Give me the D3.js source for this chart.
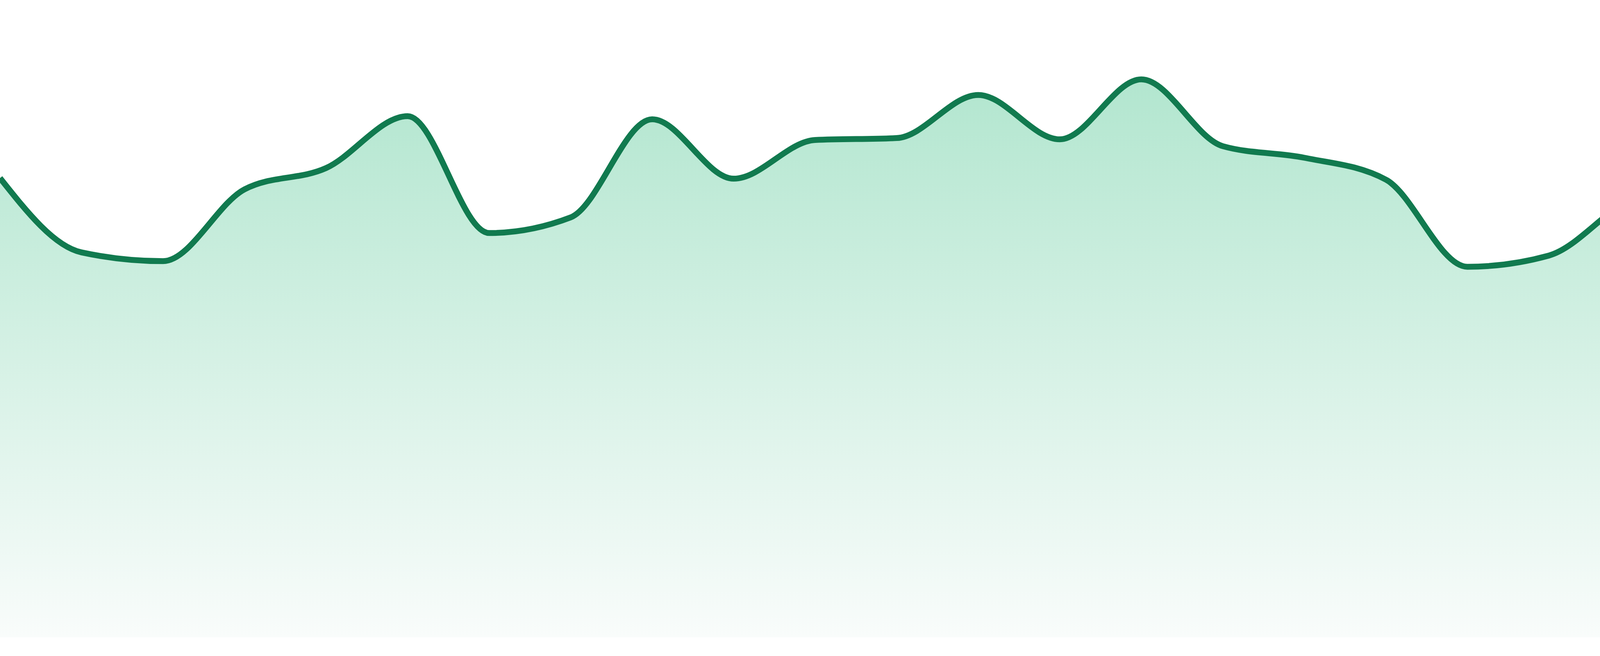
<!DOCTYPE html>
<html>
<head>
<meta charset="utf-8">
<script src="https://cdn.jsdelivr.net/npm/d3@7"></script>
<style>
  html, body { margin: 0; padding: 0; background: #fff; }
  svg { display: block; }
</style>
</head>
<body>
<div id="chart"></div>
<script>
// values, one per evenly spaced point
var values = [73.5, 61.6, 60.2, 71.7, 75.1, 83.4, 64.7, 67.2, 82.9, 73.4, 79.6, 79.9,
              86.8, 79.7, 89.3, 78.6, 76.75, 73.25, 59.3, 61.1, 70.1, 73.75, 70.4, 59.6];
var yDomain = [0, 100];

var W = 4800, H = 1680;
// note: "top" is window.top, so keep away from that name
var plotBottom = 1632, plotTop = 32;

var svg = d3.select("#chart").append("svg")
	.attr("width", W)
	.attr("height", H);

var x = d3.scaleLinear().domain([0, values.length - 1]).range([0, W]);
var y = d3.scaleLinear().domain(yDomain).range([plotBottom, plotTop]);

var defs = svg.append("defs");
var grad = defs.append("linearGradient")
	.attr("id", "fillGrad")
	.attr("x1", 0).attr("y1", 0)
	.attr("x2", 0).attr("y2", 1);
grad.append("stop").attr("offset", "0%").attr("stop-color", "rgb(178,230,207)");
grad.append("stop").attr("offset", "100%").attr("stop-color", "rgb(249,252,251)");

var area = d3.area()
	.x(function(d, i){ return x(i); })
	.y0(y(yDomain[0]))
	.y1(function(d){ return y(d); })
	.curve(d3.curveMonotoneX);

var line = d3.line()
	.x(function(d, i){ return x(i); })
	.y(function(d){ return y(d); })
	.curve(d3.curveMonotoneX);

svg.append("path")
	.datum(values)
	.attr("d", area)
	.attr("fill", "url(#fillGrad)");

svg.append("path")
	.datum(values)
	.attr("d", line)
	.attr("fill", "none")
	.attr("stroke", "#117a4f")
	.attr("stroke-width", 15);
</script>
</body>
</html>
